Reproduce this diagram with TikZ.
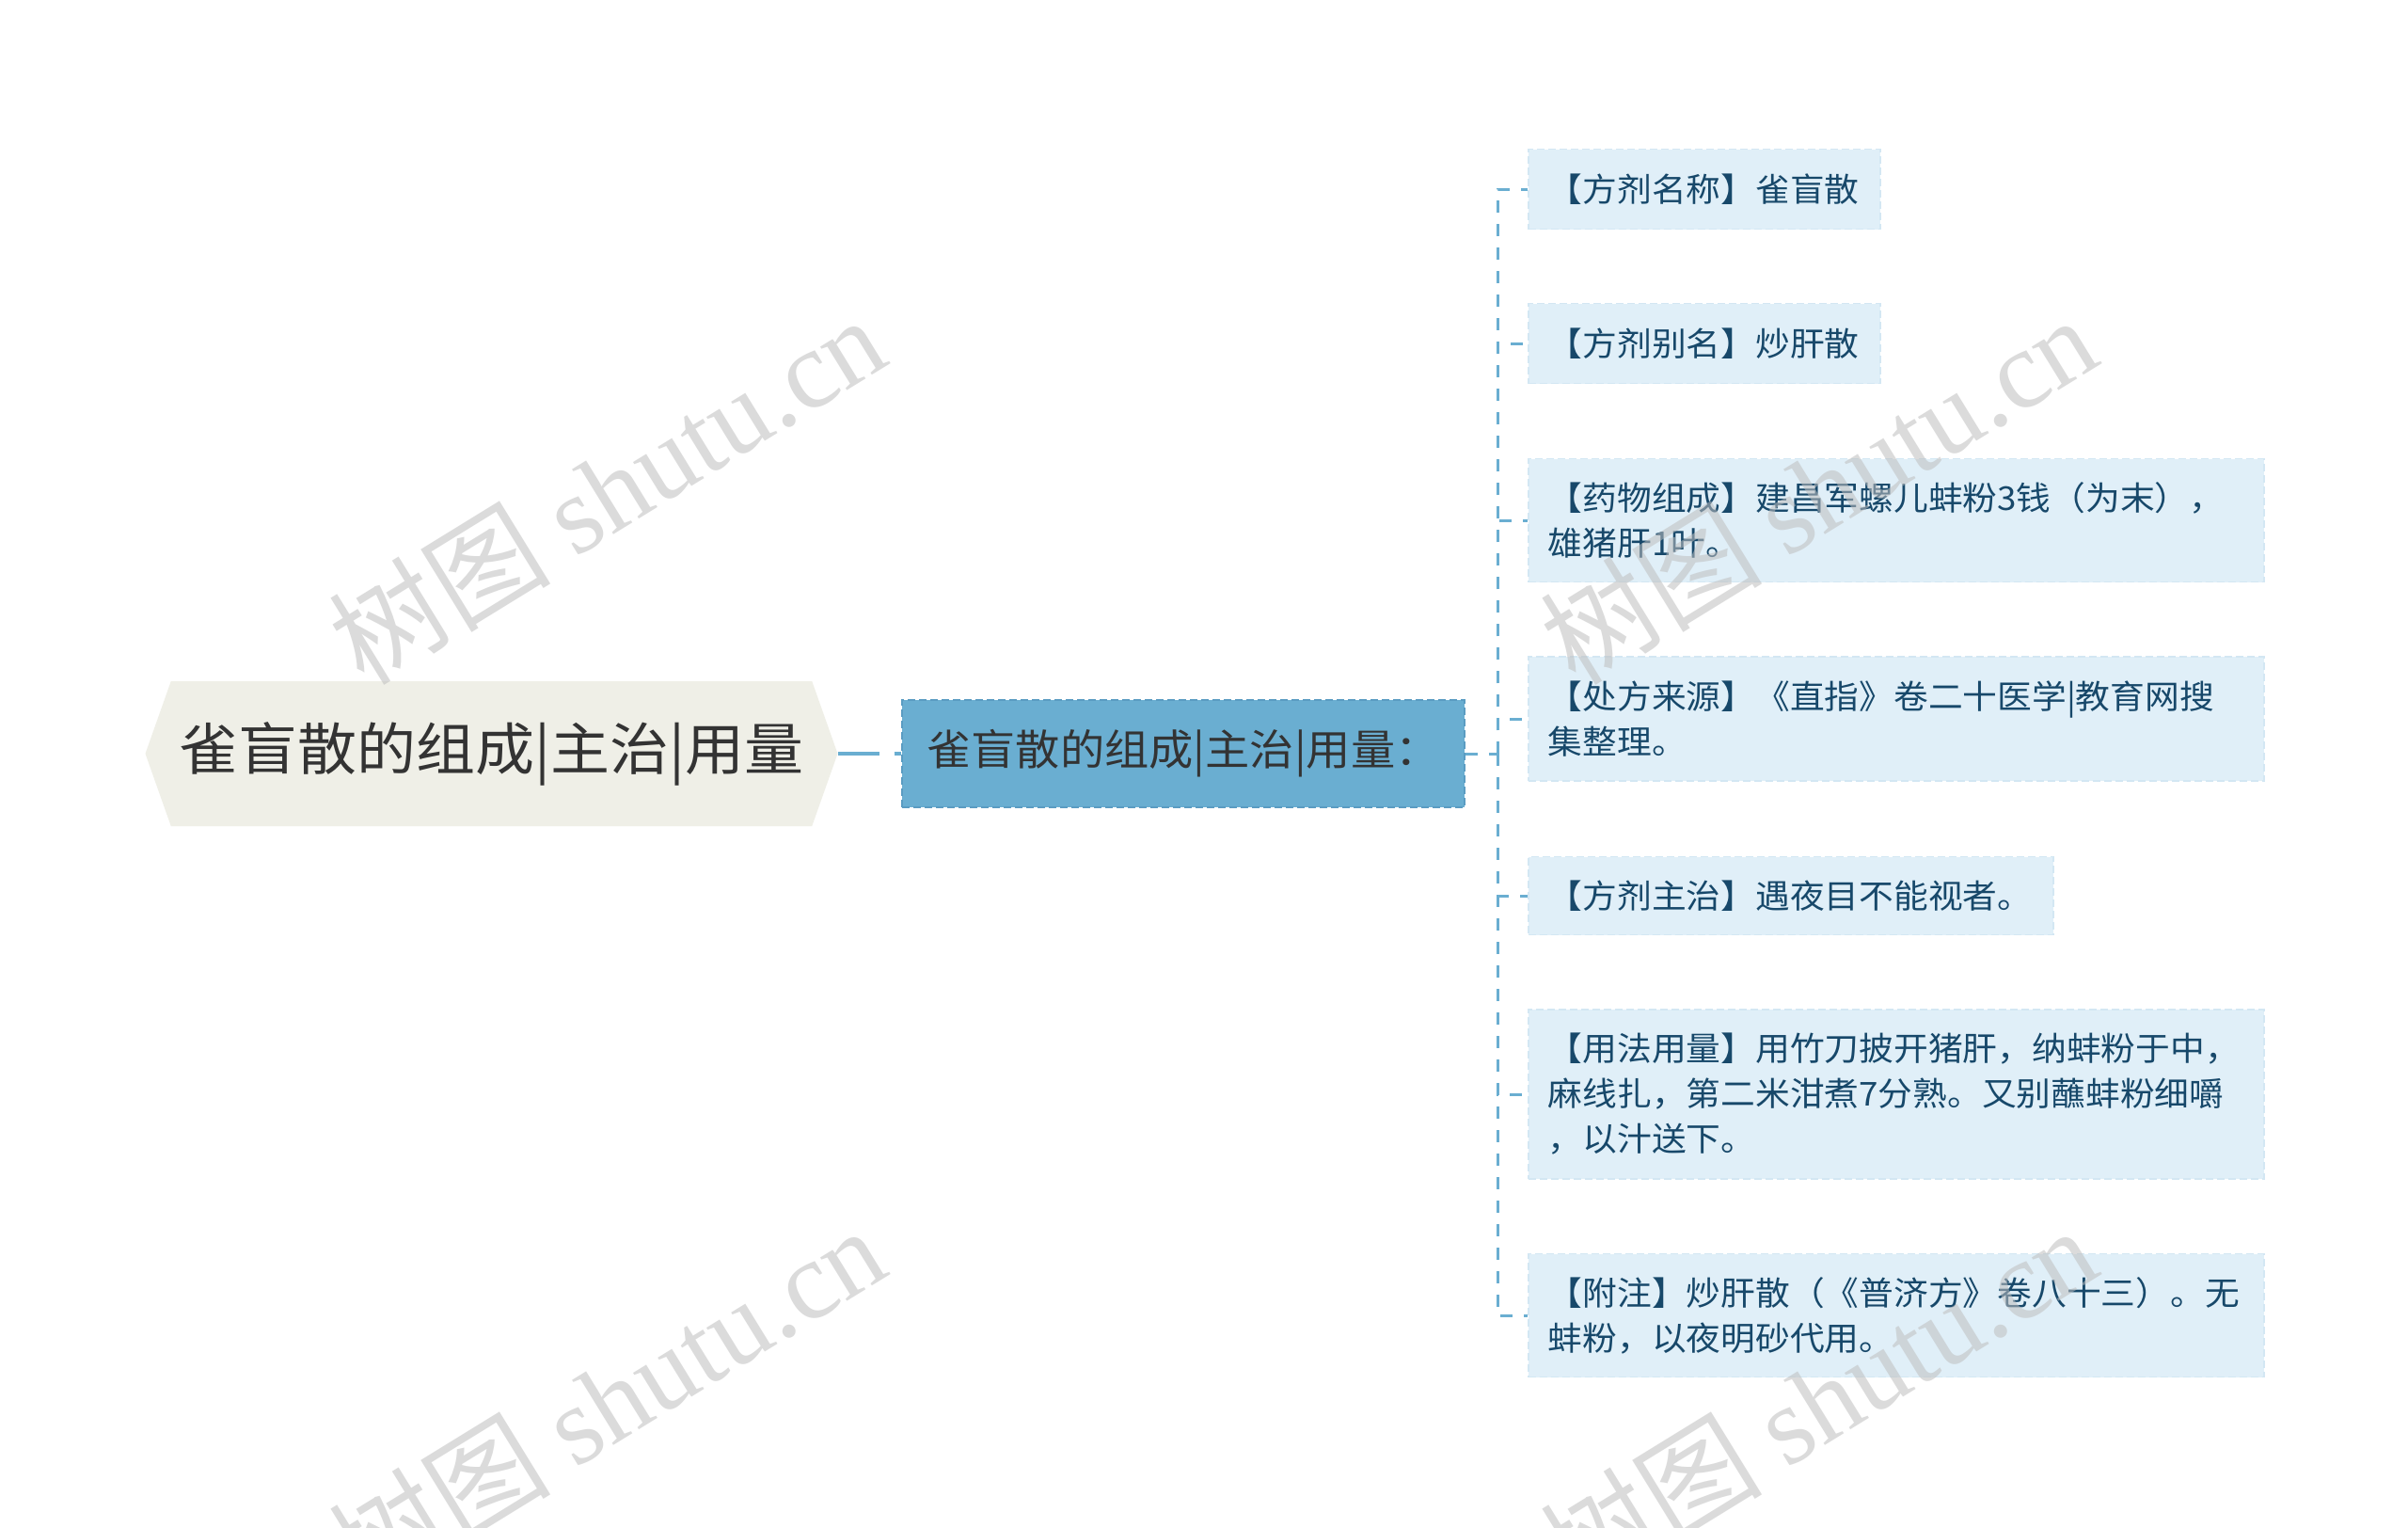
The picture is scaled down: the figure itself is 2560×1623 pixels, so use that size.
\documentclass[tikz,border=0pt]{standalone}
\usepackage{fontspec}
\setmainfont{Noto Sans CJK SC}
\newfontfamily\widefont[FakeStretch=1.05]{Noto Sans CJK SC}
\newfontfamily\wmserif{Liberation Serif}
\usetikzlibrary{shapes.symbols}
\definecolor{rootfill}{HTML}{EFEFE7}
\definecolor{roottext}{HTML}{333333}
\definecolor{midfill}{HTML}{6AAED1}
\definecolor{midborder}{HTML}{5A9CC2}
\definecolor{leaffill}{HTML}{E0EFF8}
\definecolor{leafborder}{HTML}{D3E7F3}
\definecolor{leaftext}{HTML}{17486A}
\definecolor{linecol}{HTML}{6AAED1}
\definecolor{wmcol}{HTML}{BEBEBE}
\begin{document}
\begin{tikzpicture}[x=1pt,y=-1pt,
  rootnode/.style={signal, signal to=west and east, signal pointer angle=141,
    fill=rootfill, draw=none, minimum width=736, minimum height=154, inner sep=0pt,
    text=roottext, font=\widefont\fontsize{60}{66}\selectfont},
  midnode/.style={rectangle, fill=midfill, draw=midborder, dashed, dash pattern=on 8pt off 4pt,
    line width=1.5pt, minimum width=598, minimum height=114, inner sep=0pt,
    text=roottext, font=\widefont\fontsize{45}{50}\selectfont},
  leaf/.style={rectangle, fill=leaffill, draw=leafborder, dash pattern=on 8pt off 4pt,
    line width=1.5pt, anchor=west, inner xsep=21pt, inner ysep=0pt, align=left,
    text=leaftext, font=\widefont\fontsize{35}{48}\selectfont},
  conn/.style={draw=linecol, line width=4pt, dash pattern=on 44pt off 16pt},
  tree/.style={draw=linecol, line width=3pt, dash pattern=on 13pt off 12pt},
  wm/.style={text=wmcol, opacity=0.55, rotate=31.6, font=\fontsize{118}{124}\selectfont}
]
\useasboundingbox[fill=white] (0,0) rectangle (2560,1623);

\node[rootnode] (root) at (522.5,801) {雀盲散的组成|主治|用量};
\node[midnode] (mid) at (1258,801) {雀盲散的组成|主治|用量：};

\node[leaf, text width=332, minimum height=85] (l1) at (1624,201) {【方剂名称】雀盲散};
\node[leaf, text width=332, minimum height=85] (l2) at (1624,365) {【方剂别名】炒肝散};
\node[leaf, text width=740, minimum height=131] (l3) at (1624,553) {【药物组成】建昌军螺儿蚌粉3钱（为末），\\雄猪肝1叶。};
\node[leaf, text width=740, minimum height=132] (l4) at (1624,764) {【处方来源】《直指》卷二十医学|教育网搜\\集整理。};
\node[leaf, text width=516, minimum height=83] (l5) at (1624,952) {【方剂主治】遇夜目不能视者。};
\node[leaf, text width=740, minimum height=180] (l6) at (1624,1163) {【用法用量】用竹刀披开猪肝，纳蚌粉于中，\\麻线扎，第二米泔煮7分熟。又别蘸蚌粉细嚼\\，以汁送下。};
\node[leaf, text width=740, minimum height=131] (l7) at (1624,1398) {【附注】炒肝散（《普济方》卷八十三）。无\\蚌粉，以夜明砂代用。};

\coordinate (tr) at (1592,801);
\draw[conn] (root.east) -- (mid.west);
\draw[tree] (mid.east) -- (tr);
\foreach \l in {l1,l2,l3,l4,l5,l6,l7} \draw[tree] (tr) |- (\l.west);

\node[wm] (w1) at (645,520) {树图 {\wmserif shutu.cn}};
\node[wm] (w2) at (1933,520) {树图 {\wmserif shutu.cn}};
\node[wm] (w3) at (645,1488) {树图 {\wmserif shutu.cn}};
\node[wm] (w4) at (1933,1488) {树图 {\wmserif shutu.cn}};
\end{tikzpicture}
\end{document}
